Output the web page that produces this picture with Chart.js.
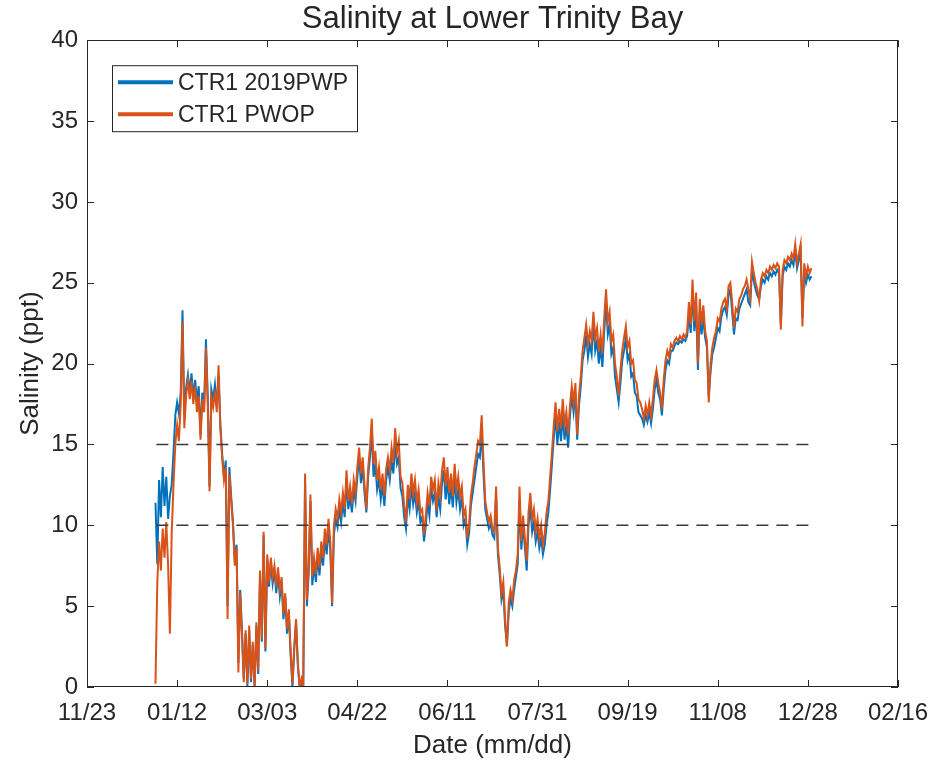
<!DOCTYPE html>
<html>
<head>
<meta charset="utf-8">
<title>Salinity at Lower Trinity Bay</title>
<script src="https://cdn.jsdelivr.net/npm/chart.js@4.4.1/dist/chart.umd.min.js"></script>
<style>
  html, body { margin: 0; padding: 0; background: #fff; }
  canvas { display: block; }
</style>
</head>
<body>
<canvas id="salinityChart" width="940" height="766"></canvas>
<script>
// days counted from 11/23/2018, one reading per day starting at day 38 (12/31)
const firstDay = 38;

// CTR1 2019PWP (blue)
const ctr1Pwp = [
  11.4, 7.6, 12.8, 10.5, 13.6, 11.2, 13.0, 10.4, 11.8, 12.5,
  14.5, 16.8, 17.6, 16.9, 18.2, 23.3, 16.8, 18.5, 19.3, 18.2,
  19.4, 17.9, 19.0, 17.7, 18.6, 15.6, 18.2, 17.4, 21.5, 18.0,
  12.4, 18.4, 17.8, 18.7, 17.4, 19.2, 16.2, 14.4, 13.0, 14.0,
  5.0, 13.6, 11.8, 10.2, 7.8, 8.8, 1.5, 6.0, 3.5, 0.5,
  3.3, 0.0, 3.5, 0.3, 2.6, 0.0, 3.8, 0.8, 7.0, 2.8,
  9.4, 2.2, 7.9, 6.2, 7.7, 6.4, 7.2, 5.8, 7.0, 5.6,
  6.5, 4.2, 5.5, 3.3, 4.5, 2.0, 0.0, 2.3, 4.0, 1.3,
  0.0, 0.3, 0.0, 12.8, 5.0, 7.0, 11.5, 6.3, 7.5, 6.5,
  8.0, 6.9, 8.4, 7.5, 9.2, 8.2, 9.8, 8.5, 5.0, 9.4,
  10.4, 9.9, 11.0, 10.2, 11.4, 10.5, 12.8, 11.0, 11.8, 10.8,
  12.2, 11.5, 13.0, 14.2, 12.6, 13.6, 12.0, 10.8, 13.0, 14.2,
  15.8, 13.0, 13.8, 12.2, 12.8, 11.6, 12.5, 11.2, 12.8, 13.6,
  12.8, 14.0, 13.2, 15.0, 13.8, 14.2, 12.3, 11.8, 10.5, 9.8,
  11.8, 11.0, 12.4, 11.3, 12.0, 10.8, 11.5, 10.2, 10.5, 9.0,
  10.0, 11.4, 10.6, 12.3, 11.5, 12.0, 10.5, 11.8, 11.0, 12.6,
  13.4, 11.6, 12.8, 11.3, 12.4, 11.1, 13.0, 11.4, 12.2, 11.0,
  11.8, 10.0, 10.4, 8.8, 9.5, 11.2, 12.0, 12.8, 13.6, 14.4,
  14.2, 15.8, 13.2, 11.0, 10.4, 9.8, 10.1, 9.4, 9.2, 11.8,
  8.2, 7.0, 5.4, 6.0, 3.8, 2.6, 4.6, 5.5, 5.0, 6.0,
  6.8, 7.6, 11.6, 8.5, 10.0, 8.6, 7.2, 10.0, 11.2, 9.6,
  10.2, 9.0, 9.6, 8.6, 9.2, 8.2, 8.8, 10.0, 10.8, 12.2,
  13.8, 15.4, 16.8, 15.0, 16.4, 15.2, 16.8, 15.3, 16.2, 14.8,
  16.8, 18.0, 17.0, 18.2, 15.3, 17.4, 18.6, 20.2, 20.8, 21.8,
  20.4, 21.2, 20.6, 22.6, 20.8, 21.4, 20.0, 21.0, 19.8, 22.0,
  23.8, 21.8, 22.4, 20.6, 21.0, 19.2, 18.4, 17.6, 18.8, 20.2,
  20.8, 21.6, 20.2, 20.6, 19.2, 19.4, 18.2, 18.0, 17.0, 16.8,
  16.6, 16.2, 16.8, 16.4, 17.0, 16.3, 17.2, 18.4, 19.0, 18.2,
  17.8, 16.8, 18.4, 19.6, 20.2, 20.0, 20.8, 20.8, 21.1, 21.3,
  21.2, 21.4, 21.3, 21.5, 21.4, 21.7, 23.0, 21.9, 24.5, 22.0,
  23.6, 19.6, 23.2, 21.8, 22.8, 21.6, 21.0, 18.0, 19.5, 20.6,
  21.0, 21.6, 22.2, 22.0, 22.9, 23.3, 23.5, 23.0, 24.2, 24.6,
  23.2, 21.8, 22.8, 22.7, 23.4, 23.7, 24.0, 24.3, 24.6, 23.8,
  23.6, 25.8, 25.1, 24.6, 24.2, 24.0, 24.8, 25.2, 25.0, 25.4,
  25.2, 25.6, 25.4, 25.7, 25.5, 25.8, 25.6, 22.4, 25.4, 26.0,
  25.8, 26.2, 26.0, 26.4, 26.1, 27.0, 25.9, 26.4, 26.9, 22.8,
  25.8, 25.0, 25.5, 25.2, 25.4
];

// CTR1 PWOP (orange)
const ctr1Pwop = [
  0.2, 6.4, 9.0, 7.2, 9.8, 8.0, 10.2, 7.5, 3.3, 9.5,
  12.5, 15.0, 16.2, 15.2, 17.5, 22.6, 16.0, 18.0, 19.0, 17.8,
  18.9, 17.5, 18.6, 17.0, 18.0, 15.3, 17.8, 17.0, 21.0, 17.5,
  12.1, 17.9, 17.3, 18.3, 17.0, 19.9, 16.0, 14.2, 12.8, 13.6,
  4.2, 13.2, 11.5, 10.0, 7.5, 8.6, 0.9, 5.8, 3.2, 0.3,
  3.5, 0.2, 3.8, 0.5, 2.8, 0.0, 4.0, 1.0, 7.2, 3.0,
  9.6, 2.4, 8.2, 6.5, 8.0, 6.8, 7.5, 6.2, 7.4, 6.0,
  6.8, 4.5, 5.8, 3.6, 4.8, 2.2, 0.2, 2.5, 4.2, 1.5,
  0.0, 0.5, 0.0, 13.2, 5.4, 7.5, 11.9, 6.8, 8.0, 7.0,
  8.6, 7.4, 9.0, 8.0, 9.8, 8.8, 10.4, 9.0, 5.2, 10.0,
  11.0, 10.4, 11.6, 10.8, 12.0, 11.0, 13.4, 11.5, 12.4, 11.3,
  12.8, 12.0, 13.6, 14.8, 13.2, 14.2, 12.5, 11.0, 13.5, 14.8,
  16.6, 13.8, 14.6, 12.8, 13.6, 12.2, 13.2, 11.8, 13.5, 14.2,
  13.4, 14.8, 13.9, 16.0, 14.5, 15.2, 13.0, 12.6, 11.2, 10.2,
  12.5, 11.6, 13.2, 12.0, 12.8, 11.4, 12.2, 10.8, 11.0, 9.4,
  10.6, 12.0, 11.2, 13.0, 12.2, 12.8, 10.9, 12.6, 11.8, 13.4,
  14.2, 12.4, 13.6, 12.0, 13.2, 11.8, 13.8, 12.2, 13.0, 11.8,
  12.4, 10.6, 11.0, 9.2, 10.0, 11.8, 12.6, 13.6, 14.4, 15.2,
  15.0, 16.8, 14.0, 11.5, 10.8, 10.2, 10.6, 9.8, 9.6, 12.4,
  8.6, 7.4, 5.8, 6.5, 4.2, 2.5, 5.2, 6.0, 5.4, 6.6,
  7.2, 8.2, 12.4, 9.0, 10.6, 9.2, 7.8, 10.8, 12.0, 10.4,
  11.0, 9.6, 10.4, 9.2, 10.0, 8.8, 9.5, 10.8, 11.5, 13.0,
  14.5, 16.2, 17.6, 15.8, 17.2, 16.0, 17.8, 16.2, 17.0, 15.6,
  17.4, 18.6, 17.6, 18.8, 15.6, 18.0, 19.2, 20.8, 21.6, 22.4,
  21.2, 22.0, 21.4, 23.2, 21.6, 22.2, 20.8, 21.8, 20.6, 22.8,
  24.6, 22.6, 23.2, 21.4, 21.8, 20.0, 19.2, 18.0, 19.6, 20.8,
  21.6, 22.3, 21.0, 21.4, 20.0, 20.2, 19.0, 18.8, 17.8, 17.6,
  17.2, 16.6, 17.4, 16.8, 17.6, 16.8, 17.8, 19.0, 19.6, 18.8,
  18.2, 17.2, 19.0, 20.2, 20.8, 20.4, 21.2, 21.0, 21.4, 21.6,
  21.4, 21.7, 21.5, 21.8, 21.6, 22.0, 23.8, 22.4, 25.2, 22.6,
  24.4, 20.0, 24.0, 22.4, 23.6, 22.0, 21.4, 17.6, 20.0, 21.0,
  21.6, 22.0, 22.8, 22.6, 23.4, 23.8, 24.0, 23.4, 24.8, 25.0,
  23.8, 22.2, 23.4, 23.2, 24.0, 24.2, 24.6, 24.8, 25.2, 24.6,
  24.0, 26.3, 25.6, 25.0, 24.6, 23.9, 25.2, 25.6, 25.4, 25.8,
  25.6, 26.0, 25.8, 26.1, 25.9, 26.2, 26.0, 22.1, 25.8, 26.4,
  26.2, 26.6, 26.4, 26.8, 26.5, 27.4, 26.2, 26.8, 27.4, 22.3,
  26.2, 25.4, 26.0, 25.6, 25.9
];

// dashed reference levels
const refDays = [38.5, 402];
const lowLevel = [10, 10];
const highLevel = [15, 15];

const baseDate = Date.UTC(2018, 10, 23);
const FONT = '"Liberation Sans", Arial, Helvetica, sans-serif';
const INK = '#262626';

function toPoints(values) {
  return values.map((v, i) => ({ x: firstDay + i, y: v }));
}

function dayLabel(v) {
  const d = new Date(baseDate + v * 86400000);
  const mm = String(d.getUTCMonth() + 1).padStart(2, '0');
  const dd = String(d.getUTCDate()).padStart(2, '0');
  return mm + '/' + dd;
}

// box around the axes with inward ticks on all four sides
const boxTicks = {
  id: 'boxTicks',
  afterDatasetsDraw(chart) {
    const { ctx, chartArea: a, scales: { x, y } } = chart;
    const len = 7;
    ctx.save();
    ctx.strokeStyle = INK;
    ctx.lineWidth = 1;
    ctx.beginPath();
    x.ticks.forEach(t => {
      const px = Math.round(x.getPixelForValue(t.value)) + 0.5;
      ctx.moveTo(px, a.bottom); ctx.lineTo(px, a.bottom - len);
      ctx.moveTo(px, a.top); ctx.lineTo(px, a.top + len);
    });
    y.ticks.forEach(t => {
      const py = Math.round(y.getPixelForValue(t.value)) + 0.5;
      ctx.moveTo(a.left, py); ctx.lineTo(a.left + len, py);
      ctx.moveTo(a.right, py); ctx.lineTo(a.right - len, py);
    });
    ctx.stroke();
    ctx.strokeRect(Math.round(a.left) + 0.5, Math.round(a.top) + 0.5,
      Math.round(a.width) - 1, Math.round(a.height) - 1);
    ctx.restore();
  }
};

// matlab style legend box inside the axes, top left
const boxLegend = {
  id: 'boxLegend',
  afterDraw(chart) {
    const { ctx, chartArea: a } = chart;
    const items = chart.data.datasets.filter(ds => ds.inLegend);
    const left = a.left + 25, top = a.top + 25;
    const w = 245, rowH = 32, h = 18 + rowH * items.length - 16;
    ctx.save();
    ctx.fillStyle = '#fff';
    ctx.fillRect(left, top, w, h);
    ctx.strokeStyle = INK;
    ctx.lineWidth = 1;
    ctx.strokeRect(left + 0.5, top + 0.5, w, h);
    ctx.font = '23px ' + FONT;
    ctx.textBaseline = 'middle';
    items.forEach((ds, i) => {
      const cy = top + 17 + i * rowH;
      ctx.strokeStyle = ds.borderColor;
      ctx.lineWidth = 4;
      ctx.beginPath();
      ctx.moveTo(left + 6, cy);
      ctx.lineTo(left + 61, cy);
      ctx.stroke();
      ctx.fillStyle = INK;
      ctx.fillText(ds.label, left + 66, cy + 1);
    });
    ctx.restore();
  }
};

const ctx = document.getElementById('salinityChart').getContext('2d');

new Chart(ctx, {
  type: 'line',
  data: {
    datasets: [
      {
        label: 'CTR1 2019PWP',
        inLegend: true,
        data: toPoints(ctr1Pwp),
        borderColor: '#0072BD',
        borderWidth: 2,
        pointRadius: 0,
        order: 3
      },
      {
        label: 'CTR1 PWOP',
        inLegend: true,
        data: toPoints(ctr1Pwop),
        borderColor: '#D95319',
        borderWidth: 2,
        pointRadius: 0,
        order: 2
      },
      {
        label: 'upper',
        data: refDays.map((d, i) => ({ x: d, y: highLevel[i] })),
        borderColor: '#3a3a3a',
        borderWidth: 1.6,
        borderDash: [12, 8],
        pointRadius: 0,
        order: 1
      },
      {
        label: 'lower',
        data: refDays.map((d, i) => ({ x: d, y: lowLevel[i] })),
        borderColor: '#3a3a3a',
        borderWidth: 1.6,
        borderDash: [12, 8],
        pointRadius: 0,
        order: 1
      }
    ]
  },
  options: {
    responsive: false,
    animation: false,
    layout: { padding: { left: 0, right: 35, top: 0, bottom: 0 } },
    plugins: {
      legend: { display: false },
      tooltip: { enabled: false },
      title: {
        display: true,
        text: 'Salinity at Lower Trinity Bay',
        fullSize: false,
        color: INK,
        font: { family: FONT, size: 31, weight: 'normal' },
        padding: { top: 1, bottom: 2 }
      }
    },
    scales: {
      x: {
        type: 'linear',
        min: 0,
        max: 450,
        grid: { display: false, drawTicks: false },
        border: { display: false },
        ticks: {
          stepSize: 50,
          autoSkip: false,
          maxRotation: 0,
          padding: 12,
          color: INK,
          font: { family: FONT, size: 24 },
          callback: v => dayLabel(v)
        },
        title: {
          display: true,
          text: 'Date (mm/dd)',
          color: INK,
          font: { family: FONT, size: 26 },
          padding: { top: 0, bottom: 5 }
        },
        afterFit(scale) { scale.height = 79; }
      },
      y: {
        min: 0,
        max: 40,
        grid: { display: false, drawTicks: false },
        border: { display: false },
        ticks: {
          stepSize: 5,
          padding: 9,
          color: INK,
          font: { family: FONT, size: 24 }
        },
        title: {
          display: true,
          text: 'Salinity (ppt)',
          color: INK,
          font: { family: FONT, size: 26 },
          padding: { top: 15, bottom: 0 }
        },
        afterFit(scale) { scale.width = 87; }
      }
    }
  },
  plugins: [boxTicks, boxLegend]
});
</script>
</body>
</html>
